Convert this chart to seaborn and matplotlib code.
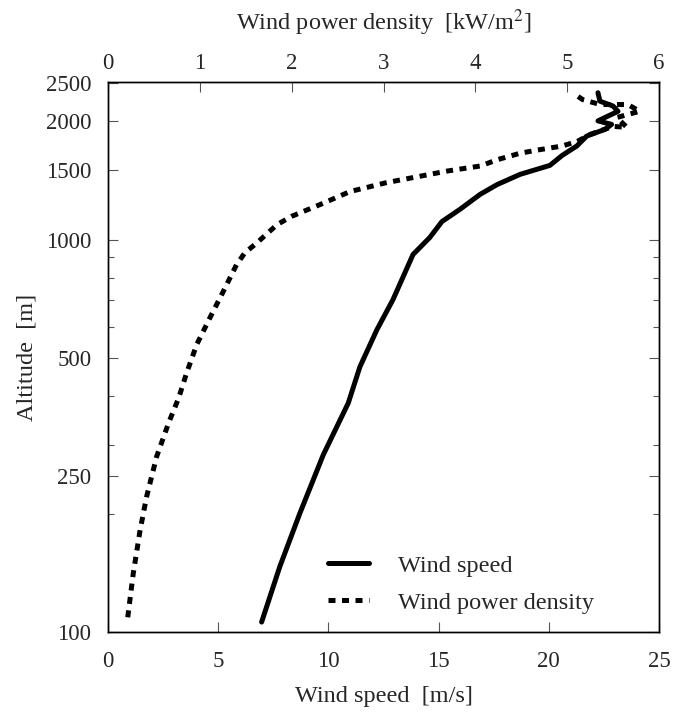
import numpy as np
import pandas as pd
import matplotlib
matplotlib.use("Agg")
import matplotlib.pyplot as plt
import seaborn as sns
from matplotlib.ticker import LogLocator, NullFormatter
from matplotlib.lines import Line2D

# ---- data ----
speed_ms = [6.97, 7.8, 8.71, 9.77, 10.9, 11.43, 12.2, 12.93, 13.84, 14.6, 15.15,
            15.97, 16.88, 17.65, 18.7, 20.05, 20.6, 21.27, 21.72, 22.55, 22.85,
            22.23, 23.14, 22.91, 22.32, 22.23]
speed_alt = [106, 147, 201, 283, 383, 474, 589, 703, 916, 1012, 1111,
             1194, 1303, 1380, 1466, 1545, 1637, 1731, 1835, 1909, 1965,
             2006, 2122, 2189, 2252, 2366]

power_kw = [0.215, 0.275, 0.35, 0.42, 0.53, 0.66, 0.77, 0.856, 0.966, 1.11, 1.256,
            1.40, 1.49, 1.62, 1.84, 2.0, 2.31, 2.635, 3.03, 3.69, 4.05, 4.25,
            4.49, 4.70, 4.94, 5.11, 5.25, 5.50, 5.65, 5.54, 5.79, 5.66, 5.36,
            5.17, 5.085]
power_alt = [109, 141, 182, 221, 280, 341, 395, 457, 540, 632, 738,
             863, 925, 980, 1091, 1146, 1228, 1325, 1396, 1494, 1539, 1600,
             1660, 1694, 1730, 1778, 1853, 1942, 1932, 2046, 2122, 2208, 2208,
             2272, 2344]

alt_ticks = [100, 250, 500, 1000, 1500, 2000, 2500]
speed_ticks = [0, 5, 10, 15, 20, 25]
power_ticks = [0, 1, 2, 3, 4, 5, 6]

df_speed = pd.DataFrame({"speed": speed_ms, "alt": speed_alt})
df_power = pd.DataFrame({"power": power_kw, "alt": power_alt})

sns.set_style("ticks")
plt.rcParams["font.family"] = ["Liberation Serif", "DejaVu Serif"]
plt.rcParams["mathtext.fontset"] = "stix"
FS_TICK = 16.5
FS_LAB = 17.5

fig = plt.figure(figsize=(6.74, 7.16), dpi=100)
ax = fig.add_axes([108 / 674, 1 - 632 / 716, 551 / 674, 550 / 716])

sns.lineplot(data=df_speed, x="speed", y="alt", sort=False, estimator=None,
             ax=ax, color="black", linewidth=3.6, legend=False)
ax.set_yscale("log")
ax.set_ylim(100, 2520)
ax.set_xlim(0, 25)

ax2 = ax.twiny()
sns.lineplot(data=df_power, x="power", y="alt", sort=False, estimator=None,
             ax=ax2, color="black", linewidth=3.6, legend=False)
for ln in ax2.get_lines():
    ln.set_dashes((1.4, 1.3))
    ln.set_dash_capstyle("butt")
ax2.set_xlim(0, 6)
ax2.set_ylim(100, 2520)

ax.set_yticks(alt_ticks)
ax.set_yticklabels([str(t) for t in alt_ticks])
ax.yaxis.set_minor_locator(LogLocator(base=10, subs=np.arange(2, 10)))
ax.yaxis.set_minor_formatter(NullFormatter())
ax.set_xticks(speed_ticks)
ax.set_xticklabels([str(t) for t in speed_ticks])
ax2.set_xticks(power_ticks)
ax2.set_xticklabels([str(t) for t in power_ticks])

ax.tick_params(axis="y", which="major", direction="in", length=7, width=0.8,
               color="#555555", labelsize=FS_TICK, pad=12)
ax.tick_params(axis="x", which="major", direction="in", length=7, width=0.8,
               color="#555555", labelsize=FS_TICK, pad=14)
ax.tick_params(axis="y", which="minor", direction="in", length=4, width=0.8,
               color="#555555")
ax.tick_params(axis="y", which="both", left=True, right=True)
ax.tick_params(axis="x", which="both", top=False, bottom=True)
ax2.tick_params(axis="x", which="major", direction="in", length=7, width=0.8,
                color="#555555", labelsize=FS_TICK, pad=6, top=True, bottom=False)

for a in (ax, ax2):
    for s in a.spines.values():
        s.set_linewidth(1.0)
        s.set_color("black")
        s.set_visible(True)

ax.set_xlabel("Wind speed  [m/s]", fontsize=FS_LAB, labelpad=10)
ax.set_ylabel("Altitude  [m]", fontsize=FS_LAB, labelpad=6)
ax2.set_xlabel(r"Wind power density  [kW/m$^2$]", fontsize=FS_LAB, labelpad=16)

handles = [Line2D([], [], color="black", linewidth=3.6),
           Line2D([], [], color="black", linewidth=3.6, dashes=(1.4, 1.3),
                  dash_capstyle="butt")]
ax2.legend(handles, ["Wind speed", "Wind power density"], loc="center left",
           bbox_to_anchor=(0.399, 0.087), frameon=False, fontsize=FS_LAB,
           handlelength=1.7, handletextpad=1.2, labelspacing=0.62,
           borderpad=0, borderaxespad=0)

fig.savefig("out.png", dpi=100)
